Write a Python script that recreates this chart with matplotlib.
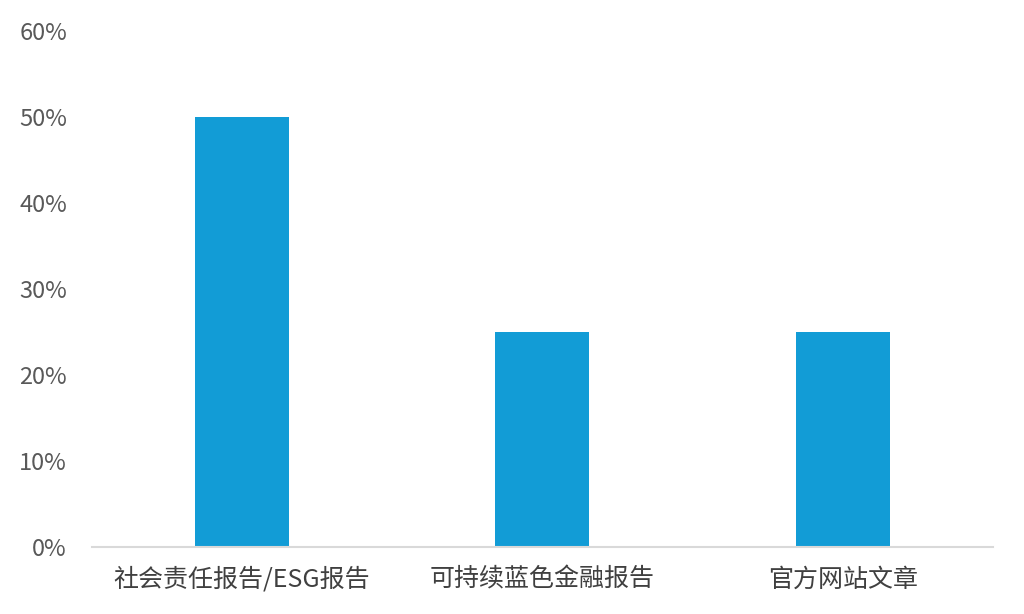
import matplotlib.pyplot as plt
from matplotlib.ticker import PercentFormatter

plt.rcParams["font.family"] = ["Noto Sans CJK SC", "DejaVu Sans"]

categories = ["社会责任报告/ESG报告", "可持续蓝色金融报告", "官方网站文章"]
shares = [0.50, 0.25, 0.25]
y_ticks = [0, 0.1, 0.2, 0.3, 0.4, 0.5, 0.6]

fig = plt.figure(figsize=(10.24, 6.14), dpi=100)
ax = fig.add_axes([0.0898, 0.1091, 0.8799, 0.8404])

ax.bar(range(len(categories)), shares, width=0.313, color="#129CD6")

ax.set_xlim(-0.5, len(categories) - 0.5)
ax.set_ylim(0, 0.6)
ax.set_yticks(y_ticks)
ax.yaxis.set_major_formatter(PercentFormatter(1.0, decimals=0))
ax.set_xticks(range(len(categories)))
ax.set_xticklabels(categories, fontsize=18, color="#404040")
ax.tick_params(axis="x", length=0, pad=14)
ax.tick_params(axis="y", length=0, pad=18, labelsize=17, labelcolor="#595959")

for side in ("top", "right", "left"):
    ax.spines[side].set_visible(False)
ax.spines["bottom"].set_color("#D9D9D9")
ax.spines["bottom"].set_linewidth(1.5)

fig.savefig("out.png", dpi=100)
